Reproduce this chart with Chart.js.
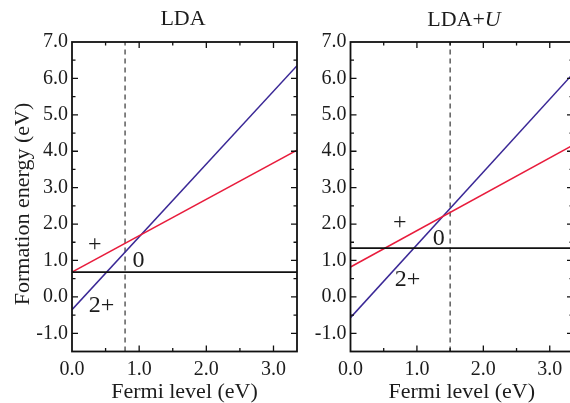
<!DOCTYPE html>
<html>
<head>
<meta charset="utf-8">
<script src="https://cdn.jsdelivr.net/npm/chart.js@4/dist/chart.umd.min.js"></script>
<style>
  html, body { margin:0; padding:0; background:#fff; overflow:hidden; width:570px; height:403px; }
  #wrapL { position:absolute; left:0; top:0; width:300px; height:403px; }
  #wrapR { position:absolute; left:300px; top:0; width:276px; height:403px; }
</style>
</head>
<body>
<div id="wrapL"><canvas id="cL" width="300" height="403"></canvas></div>
<div id="wrapR"><canvas id="cR" width="276" height="403"></canvas></div>
<script>
// ---------------- data ----------------
const panelTitles = ['LDA', 'LDA+U'];
const fermiX = [0, 3.35];                 // x-range endpoints of each line
// LDA panel
const ldaNeutral = [0.68, 0.68];          // charge 0
const ldaPlus1   = [0.68, 4.03];          // charge +
const ldaPlus2   = [-0.35, 6.35];         // charge 2+
const ldaGap     = 0.79;                  // dashed vertical line
// LDA+U panel
const lduNeutral = [1.34, 1.34];
const lduPlus1   = [0.82, 4.17];
const lduPlus2   = [-0.57, 6.13];
const lduGap     = 1.50;
// charge-state labels and anchors (data coordinates)
const chargeText = ['+', '0', '2+'];
const ldaLabelX = [0.34, 0.99, 0.44];
const ldaLabelY = [1.44, 1.00, -0.24];
const lduLabelX = [0.74, 1.33, 0.86];
const lduLabelY = [2.05, 1.61, 0.48];
// axes
const xRange = [0, 3.35];
const yRange = [-1.5, 7.0];
const xTickVals = [0, 1, 2, 3];
const yTickVals = [-1, 0, 1, 2, 3, 4, 5, 6, 7];

// ---------------- styling ----------------
const SERIF = '"Liberation Serif", "Times New Roman", serif';
const RED = '#e81c3c';
const BLUE = '#3a2896';
const BLACK = '#111';
const TEXT = '#1c1c1c';

function lineDs(ys, color, w) {
  return {
    data: fermiX.map((x, i) => ({ x: x, y: ys[i] })),
    borderColor: color, borderWidth: w || 1.5, pointRadius: 0, showLine: true, tension: 0, fill: false
  };
}
function dashDs(x) {
  return {
    data: yRange.map(y => ({ x: x, y: y })),
    borderColor: '#333', borderWidth: 1.2, borderDash: [5, 4], pointRadius: 0, showLine: true, fill: false
  };
}

const framePlugin = {
  id: 'frame',
  afterDatasetsDraw(chart, args, opts) {
    const { ctx, chartArea: a, scales } = chart;
    const xs = scales.x, ys = scales.y;
    ctx.save();
    // charge labels
    ctx.fillStyle = TEXT;
    ctx.font = '24px ' + SERIF;
    ctx.textAlign = 'center';
    ctx.textBaseline = 'middle';
    opts.lx.forEach((lx, i) => {
      ctx.fillText(chargeText[i], xs.getPixelForValue(lx), ys.getPixelForValue(opts.ly[i]));
    });
    // frame
    ctx.strokeStyle = BLACK;
    ctx.lineWidth = 1.8;
    ctx.strokeRect(a.left, a.top, a.right - a.left, a.bottom - a.top);
    // inward ticks
    ctx.lineWidth = 1.3;
    ctx.beginPath();
    const majorL = 6, minorL = 3.5;
    for (let v = Math.ceil(xRange[0] * 2) / 2; v <= xRange[1]; v += 0.5) {
      const px = xs.getPixelForValue(v);
      if (px <= a.left + 0.5 || px >= a.right - 0.5) continue;
      const L = Math.abs(v - Math.round(v)) < 1e-6 ? majorL : minorL;
      ctx.moveTo(px, a.bottom); ctx.lineTo(px, a.bottom - L);
      ctx.moveTo(px, a.top); ctx.lineTo(px, a.top + L);
    }
    for (let v = Math.ceil(yRange[0] * 2) / 2; v <= yRange[1]; v += 0.5) {
      const py = ys.getPixelForValue(v);
      if (py <= a.top + 0.5 || py >= a.bottom - 0.5) continue;
      const L = Math.abs(v - Math.round(v)) < 1e-6 ? majorL : minorL;
      ctx.moveTo(a.left, py); ctx.lineTo(a.left + L, py);
      ctx.moveTo(a.right, py); ctx.lineTo(a.right - L, py);
    }
    ctx.stroke();
    // panel title
    ctx.fillStyle = TEXT;
    ctx.textBaseline = 'alphabetic';
    const t = opts.title;
    if (t.indexOf('+U') >= 0) {
      const base = t.replace(/U$/, '');
      ctx.font = '22px ' + SERIF;
      const w1 = ctx.measureText(base).width;
      ctx.font = 'italic 22px ' + SERIF;
      const w2 = ctx.measureText('U').width;
      const x0 = opts.titleX - (w1 + w2) / 2;
      ctx.textAlign = 'left';
      ctx.font = '22px ' + SERIF;
      ctx.fillText(base, x0, 26);
      ctx.font = 'italic 22px ' + SERIF;
      ctx.fillText('U', x0 + w1, 26);
    } else {
      ctx.font = '22px ' + SERIF;
      ctx.textAlign = 'center';
      ctx.fillText(t, opts.titleX, 25);
    }
    // y-axis title
    if (opts.yTitle) {
      ctx.save();
      ctx.translate(23, 204);
      ctx.rotate(-Math.PI / 2);
      ctx.font = '22px ' + SERIF;
      ctx.textAlign = 'center';
      ctx.textBaseline = 'middle';
      ctx.fillText(opts.yTitle, 0, 0);
      ctx.restore();
    }
    ctx.restore();
  }
};

function makeChart(id, datasets, yW, padR, titleText, titleX, lx, ly, yTitle) {
  const tickFont = { family: SERIF, size: 20 };
  return new Chart(document.getElementById(id), {
    type: 'scatter',
    data: { datasets: datasets },
    plugins: [framePlugin],
    options: {
      responsive: false, animation: false, devicePixelRatio: 1,
      layout: { padding: { top: 42, right: padR, left: 0, bottom: 0 } },
      plugins: {
        legend: { display: false }, tooltip: { enabled: false },
        frame: { title: titleText, titleX: titleX, lx: lx, ly: ly, yTitle: yTitle }
      },
      scales: {
        x: {
          type: 'linear', min: xRange[0], max: xRange[1],
          grid: { display: false, drawTicks: false }, border: { display: false },
          ticks: { stepSize: 1, font: tickFont, color: TEXT, padding: 6, maxRotation: 0, autoSkip: false,
                   callback: v => Number(v).toFixed(1) },
          afterBuildTicks: s => { s.ticks = xTickVals.map(v => ({ value: v })); },
          afterFit: s => { s.height = 51.5; },
          title: { display: true, text: 'Fermi level (eV)', color: TEXT, font: { family: SERIF, size: 22 },
                   padding: { top: 0, bottom: -2 } }
        },
        y: {
          type: 'linear', min: yRange[0], max: yRange[1],
          grid: { display: false, drawTicks: false }, border: { display: false },
          ticks: { stepSize: 1, font: tickFont, color: TEXT, padding: 4, autoSkip: false,
                   callback: v => Number(v).toFixed(1) },
          afterBuildTicks: s => { s.ticks = yTickVals.map(v => ({ value: v })); },
          afterFit: s => { s.width = yW; }
        }
      }
    }
  });
}

makeChart('cL', [
  lineDs(ldaNeutral, BLACK, 1.6), lineDs(ldaPlus1, RED), lineDs(ldaPlus2, BLUE), dashDs(ldaGap)
], 72, 3, panelTitles[0], 183, ldaLabelX, ldaLabelY, 'Formation energy (eV)');

makeChart('cR', [
  lineDs(lduNeutral, BLACK, 1.6), lineDs(lduPlus1, RED), lineDs(lduPlus2, BLUE), dashDs(lduGap)
], 50.5, 3, panelTitles[1], 164, lduLabelX, lduLabelY, null);
</script>
</body>
</html>
